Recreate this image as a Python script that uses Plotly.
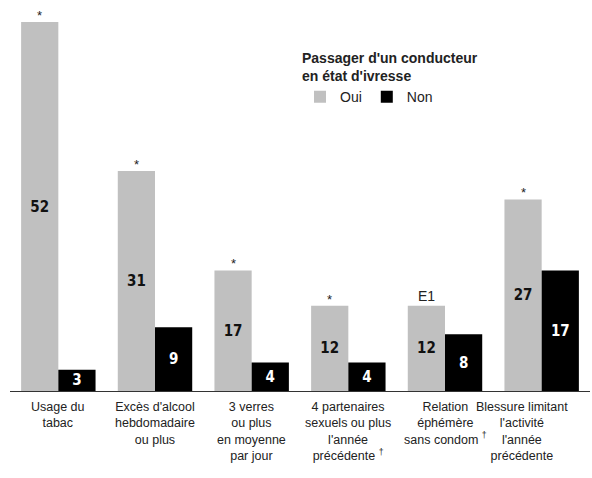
import plotly.graph_objects as go

categories = [
    "Usage du<br>tabac",
    "Excès d'alcool<br>hebdomadaire<br>ou plus",
    "3 verres<br>ou plus<br>en moyenne<br>par jour",
    "4 partenaires<br>sexuels ou plus<br>l'année<br>précédente <sup>†</sup>",
    "Relation<br>éphémère<br>sans condom <sup>†</sup>",
    "Blessure limitant<br>l'activité<br>l'année<br>précédente",
]
oui = [52, 31, 17, 12, 12, 27]
non = [3, 9, 4, 4, 8, 17]
oui_marks = ["*", "*", "*", "*", "E1", "*"]

FONT = "Liberation Sans, Arial"
VALFONT = "DejaVu Sans Condensed, Liberation Sans, Arial"

fig = go.Figure()
fig.add_bar(x=categories, y=oui, name="Oui", marker=dict(color="#c0c0c0", line=dict(width=0)),
            text=oui, textposition="inside", insidetextanchor="middle", constraintext="none",
            textfont=dict(family=VALFONT, size=15, color="#111111", weight="bold"),
            textangle=0, hoverinfo="skip")
fig.add_bar(x=categories, y=non, name="Non", marker=dict(color="#000000", line=dict(width=0)),
            text=non, textposition="inside", insidetextanchor="middle", constraintext="none",
            textfont=dict(family=VALFONT, size=15, color="#ffffff", weight="bold"),
            textangle=0, hoverinfo="skip")

# marks above the "Oui" bars
for cat, val, mark in zip(categories, oui, oui_marks):
    fig.add_annotation(x=cat, y=val, text=mark, showarrow=False, yanchor="bottom",
                       xshift=-18.6, yshift=0 if mark == "E1" else -3,
                       font=dict(family=FONT, size=14 if mark == "E1" else 13, color="#222222"))

# category labels (drawn as annotations so the last one can sit inside the page)
for i, cat in enumerate(categories):
    fig.add_annotation(x=cat, y=0, yref="paper", text=cat, showarrow=False,
                       yanchor="top", yshift=-7, xshift=-20 if i == len(categories) - 1 else 0,
                       align="center",
                       font=dict(family=FONT, size=12.5, color="#222222"))

fig.update_layout(
    width=592, height=478,
    margin=dict(l=10, r=2, t=10, b=87),
    paper_bgcolor="white", plot_bgcolor="white",
    barmode="group", bargap=0.23, bargroupgap=0,
    font=dict(family=FONT, color="#222222"),
    showlegend=True,
    legend=dict(
        title=dict(text="<b>Passager d'un conducteur<br>en état d'ivresse</b>",
                   font=dict(size=14, family=FONT), side="top"),
        orientation="h", x=0.5, y=0.909, xanchor="left", yanchor="top",
        font=dict(size=14, family=FONT),
        itemwidth=30, tracegroupgap=0, bgcolor="rgba(0,0,0,0)",
    ),
)
fig.update_xaxes(showline=True, linecolor="#333333", linewidth=1, ticks="",
                 automargin=False, showticklabels=False)
fig.update_yaxes(range=[0, 53.7], visible=False, showgrid=False)

fig.write_html("out.html", config={"displayModeBar": False},
               post_script="document.body.style.margin='0';")
